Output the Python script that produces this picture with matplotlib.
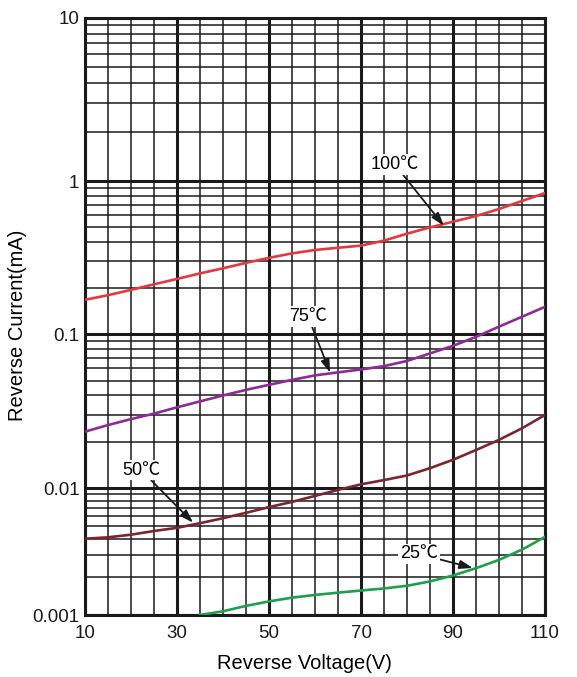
import numpy as np
import matplotlib
matplotlib.use('Agg')
import matplotlib.pyplot as plt
from matplotlib.ticker import FixedLocator, NullFormatter

# reverse current (mA) vs reverse voltage (V)
V_100 = [10, 15, 20, 25, 30, 35, 40, 45, 50, 55, 60, 65, 70, 75, 80, 85, 90, 95, 100, 105, 110]
I_100 = [0.168, 0.180, 0.195, 0.212, 0.230, 0.250, 0.270, 0.293, 0.316, 0.338, 0.356, 0.368,
         0.380, 0.410, 0.455, 0.500, 0.545, 0.594, 0.660, 0.745, 0.840]

V_75 = [10, 15, 20, 25, 30, 35, 40, 45, 50, 55, 60, 65, 70, 75, 80, 85, 90, 95, 100, 105, 110]
I_75 = [0.0233, 0.0257, 0.0281, 0.0305, 0.0335, 0.0366, 0.0400, 0.0435, 0.0469, 0.0505, 0.0540,
        0.0565, 0.0590, 0.0620, 0.0670, 0.0750, 0.0840, 0.0960, 0.112, 0.130, 0.151]

V_50 = [10, 15, 20, 25, 30, 35, 40, 45, 50, 55, 60, 65, 70, 75, 80, 85, 90, 95, 100, 105, 110]
I_50 = [0.0040, 0.0041, 0.0043, 0.0046, 0.00487, 0.0053, 0.0058, 0.0064, 0.0071, 0.0078, 0.0087,
        0.0097, 0.0106, 0.0113, 0.0121, 0.0135, 0.0153, 0.0177, 0.0206, 0.0245, 0.0299]

V_25 = [35, 40, 45, 50, 55, 60, 65, 70, 75, 80, 85, 90, 95, 100, 105, 110]
I_25 = [0.0010, 0.00107, 0.00118, 0.00128, 0.00137, 0.00144, 0.00150, 0.00156, 0.00162, 0.00170,
        0.00184, 0.00205, 0.00234, 0.00272, 0.00328, 0.00413]

X_TICKS = [10, 30, 50, 70, 90, 110]
Y_TICKS = [0.001, 0.01, 0.1, 1, 10]
Y_TICK_LABELS = ['0.001', '0.01', '0.1', '1', '10']

# the printed log grid has uneven decades, so map log10 piecewise
LOG_KNOTS = [-9, -3, -2, -1, 0, 1, 7]
POS_KNOTS = [-760.2, 0, 126.7, 280.7, 433.3, 596.7, 1577.1]


def forward(y):
    y = np.clip(np.asarray(y, dtype=float), 1e-12, None)
    return np.interp(np.log10(y), LOG_KNOTS, POS_KNOTS)


def inverse(p):
    return 10 ** np.interp(p, POS_KNOTS, LOG_KNOTS)


plt.rcParams['font.family'] = ['Liberation Sans', 'Noto Sans CJK SC', 'DejaVu Sans']

fig = plt.figure(figsize=(5.77, 6.77), dpi=100)
ax = fig.add_axes([85 / 577, 1 - 615 / 677, 460 / 577, 597 / 677])
ax.set_yscale('function', functions=(forward, inverse))
ax.set_xlim(10, 110)
ax.set_ylim(0.001, 10)

ax.plot(V_100, I_100, color='#e0393f', lw=1.9, zorder=3)
ax.plot(V_75, I_75, color='#8c2b94', lw=1.9, zorder=3)
ax.plot(V_50, I_50, color='#7a2630', lw=1.9, zorder=3)
ax.plot(V_25, I_25, color='#1f9e4f', lw=1.9, zorder=3)

ax.xaxis.set_major_locator(FixedLocator(X_TICKS))
ax.xaxis.set_minor_locator(FixedLocator(np.arange(10, 111, 5)))
ax.yaxis.set_major_locator(FixedLocator(Y_TICKS))
ax.yaxis.set_minor_locator(FixedLocator([k * 10.0 ** n for n in range(-3, 1) for k in range(2, 10)]))
ax.set_xticklabels([str(x) for x in X_TICKS])
ax.set_yticklabels(Y_TICK_LABELS)
ax.xaxis.set_minor_formatter(NullFormatter())
ax.yaxis.set_minor_formatter(NullFormatter())

ax.grid(which='major', color='#1a1a1a', lw=2.2)
ax.grid(which='minor', color='#1a1a1a', lw=1.1)
ax.set_axisbelow(True)
for s in ax.spines.values():
    s.set_linewidth(2.2)
    s.set_color('#1a1a1a')

ax.tick_params(which='both', length=0, labelsize=13.5, colors='#1a1a1a')
ax.tick_params(axis='x', pad=7)
ax.tick_params(axis='y', pad=4)

ax.set_xlabel('Reverse Voltage(V)', fontsize=14.5, x=0.476, labelpad=9)
ax.set_ylabel('Reverse Current(mA)', fontsize=14.5, y=0.486, labelpad=4)

box = dict(boxstyle='square,pad=0.1', fc='white', ec='none')
arrow = dict(arrowstyle='-|>,head_length=0.6,head_width=0.2', color='#1a1a1a', lw=1.3,
             shrinkA=0, shrinkB=0)
lbl = dict(ha='center', va='center', fontsize=13, bbox=box, arrowprops=arrow, zorder=4,
           family=['Liberation Sans', 'Noto Sans CJK SC'])
ax.annotate('100\u2103', xy=(88, 0.513), xytext=(77.4, 1.265), **lbl)
ax.annotate('75\u2103', xy=(63.3, 0.0563), xytext=(58.5, 0.130), **lbl)
ax.annotate('50\u2103', xy=(33.5, 0.00535), xytext=(22.2, 0.0131), **lbl)
ax.annotate('25\u2103', xy=(94.3, 0.00235), xytext=(82.6, 0.00303), **lbl)

fig.savefig('out.png', dpi=100)
